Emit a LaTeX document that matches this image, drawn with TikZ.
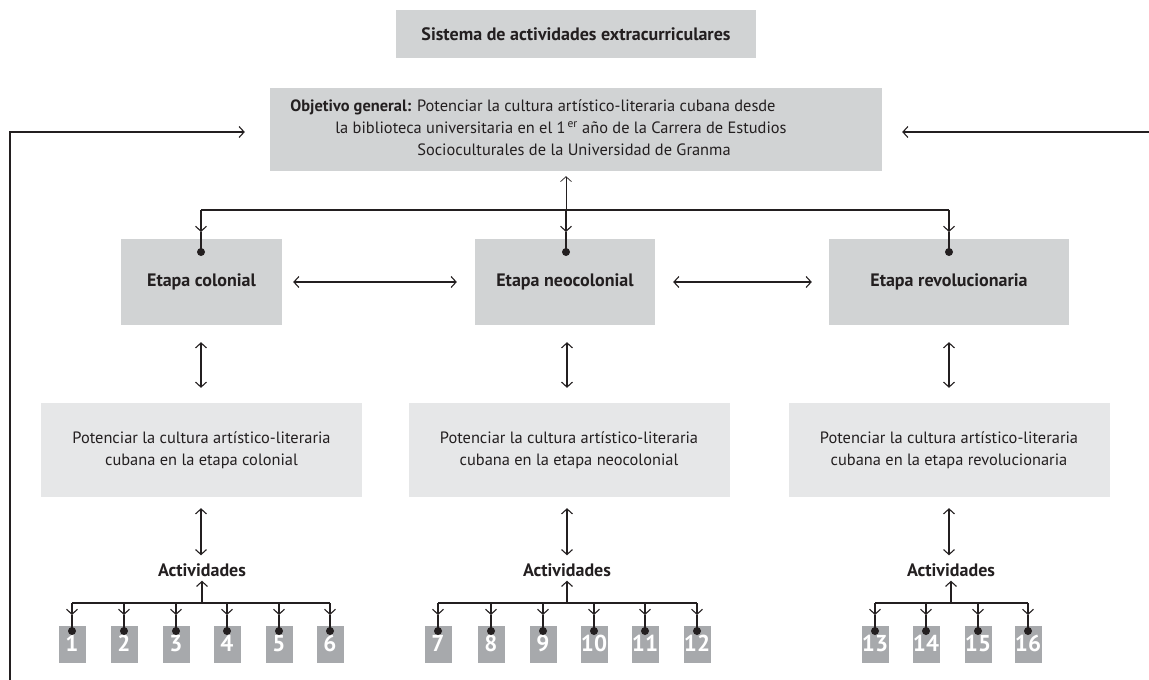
\documentclass[tikz,border=0pt]{standalone}
\usepackage{fontspec}
\setmainfont{PT Sans}
\usetikzlibrary{arrows.meta}
\definecolor{boxgray}{HTML}{D1D3D4}
\definecolor{boxlight}{HTML}{E6E7E8}
\definecolor{sqgray}{HTML}{A7A9AC}
\definecolor{ink}{HTML}{231F20}
\begin{document}
\begin{tikzpicture}[x=1pt,y=-1pt,
  box/.style={fill=boxgray,draw=none,inner sep=0pt,text=ink},
  lbox/.style={fill=boxlight,draw=none,inner sep=0pt,text=ink,align=center,font=\fontsize{16.4}{22}\selectfont},
  etapa/.style={box,minimum height=86pt,font=\fontsize{18}{20}\selectfont\bfseries},
  sq/.style={fill=sqgray,draw=none,inner sep=0pt,minimum width=27pt,minimum height=37pt,text=white,font=\fontsize{23}{24}\selectfont\bfseries,text depth=0pt,text height=13pt},
  lbl/.style={inner sep=0pt,text=ink,font=\fontsize{18}{20}\selectfont\bfseries},
  tip/.style={Straight Barb[length=5pt,width=11pt,line width=1.1pt]},
  arr/.style={-{Straight Barb[length=5pt,width=11pt]},line width=1.1pt,draw=ink},
  darr/.style={{Straight Barb[length=5pt,width=11pt]}-{Straight Barb[length=5pt,width=11pt]},line width=1.1pt,draw=ink},
  ln/.style={line width=1.1pt,draw=ink},
  dotc/.style={circle,fill=ink,inner sep=0pt,minimum size=8pt}]
\useasboundingbox (0,0) rectangle (1149,680);

% title and objective
\node[box,minimum width=360pt,minimum height=48pt,font=\fontsize{18}{20}\selectfont\bfseries] (title) at (576,34) {Sistema de actividades extracurriculares};
\node[box,minimum width=612pt,minimum height=83pt] (obj) at (576,129.5) {};
\node[inner sep=0pt,text=ink,align=center,font=\fontsize{16.4}{22}\selectfont] (objtxt) at (561,128)
 {\textbf{Objetivo general:} Potenciar la cultura artístico-literaria cubana desde\hspace*{56pt}\\
  la biblioteca universitaria en el 1\textsuperscript{\,er} año de la Carrera de Estudios\\
  \hspace*{26pt}Socioculturales de la Universidad de Granma};

% etapas
\node[etapa,minimum width=161pt] (e1) at (201.5,282) {Etapa colonial};
\node[etapa,minimum width=180pt] (e2) at (565,282) {Etapa neocolonial};
\node[etapa,minimum width=240pt] (e3) at (949,282) {Etapa revolucionaria};

% lower boxes
\node[lbox,minimum width=321pt,minimum height=94pt] (p1) at (201.5,450) {Potenciar la cultura artístico-literaria\\cubana en la etapa colonial};
\node[lbox,minimum width=321pt,minimum height=94pt] (p2) at (569,450) {Potenciar la cultura artístico-literaria\\cubana en la etapa neocolonial};
\node[lbox,minimum width=321pt,minimum height=94pt] (p3) at (949,450) {Potenciar la cultura artístico-literaria\\cubana en la etapa revolucionaria};

% actividades labels
\node[lbl] (a1) at (202,570) {Actividades};
\node[lbl] (a2) at (567,570) {Actividades};
\node[lbl] (a3) at (951,570) {Actividades};

% squares
\foreach \n/\x in {1/72,2/124,3/176,4/227,5/279,6/330,7/438,8/491,9/543,10/594,11/645,12/697,13/875,14/926,15/978,16/1028}{
  \node[sq] (s\n) at (\x,644.5) {\n};
  \node[dotc] (sd\n) at (\x,631) {};
  \coordinate (st\n) at (\x,615);
  \coordinate (sh\n) at (\x,603);
}

% top distribution
\coordinate (h1) at (201,210);
\coordinate (h2) at (566,210);
\coordinate (h3) at (949,210);
\coordinate (t1) at (201,232);
\coordinate (t2) at (566,232);
\coordinate (t3) at (949,232);
\node[dotc] (d1) at (201,252) {};
\node[dotc] (d2) at (566,252) {};
\node[dotc] (d3) at (949,252) {};
\draw[ln] (h1) -- (h3);
\draw[line width=0.7pt,draw=ink,-{Straight Barb[length=5pt,width=11pt]}] (h2) -- ([yshift=-5pt]obj.south -| h2);
\foreach \i in {1,2,3}{
  \draw[arr] (h\i) -- (t\i);
  \draw[ln] (t\i) -- (d\i.center);
}

% horizontal double arrows between etapas
\draw[darr] ([xshift=11pt]e1.east) -- ([xshift=-18pt]e2.west);
\draw[darr] ([xshift=18pt]e2.east) -- ([xshift=-17pt]e3.west);

% vertical double arrows
\coordinate (c1) at (201,0);
\coordinate (c2) at (567,0);
\coordinate (c3) at (949,0);
\foreach \i in {1,2,3}{
  \draw[darr] ([yshift=-17pt]e\i.south -| c\i) -- ([yshift=15pt]p\i.north -| c\i);
  \draw[darr] ([yshift=-11pt]p\i.south -| c\i) -- ([yshift=8pt]a\i.north -| c\i);
}

% activity distribution lines
\draw[ln] (sh1) -- (sh6);
\draw[ln] (sh7) -- (sh12);
\draw[ln] (sh13) -- (sh16);
\foreach \i in {1,...,16}{
  \draw[arr] (sh\i) -- (st\i);
  \draw[ln] (st\i) -- (sd\i.center);
}
\coordinate (u1) at (202,603);
\coordinate (u2) at (567,603);
\coordinate (u3) at (951,603);
\foreach \i in {1,2,3}{
  \draw[arr] (u\i) -- ([yshift=-4pt]a\i.south -| u\i);
}

% feedback lines
\coordinate (fl0) at (10,680);
\coordinate (fl1) at (10,132);
\coordinate (fr0) at (1149,132);
\draw[arr] (fl0) -- (fl1) -- ([xshift=-25pt]obj.west |- fl1);
\draw[arr] (fr0) -- ([xshift=20pt]obj.east |- fr0);
\end{tikzpicture}
\end{document}
